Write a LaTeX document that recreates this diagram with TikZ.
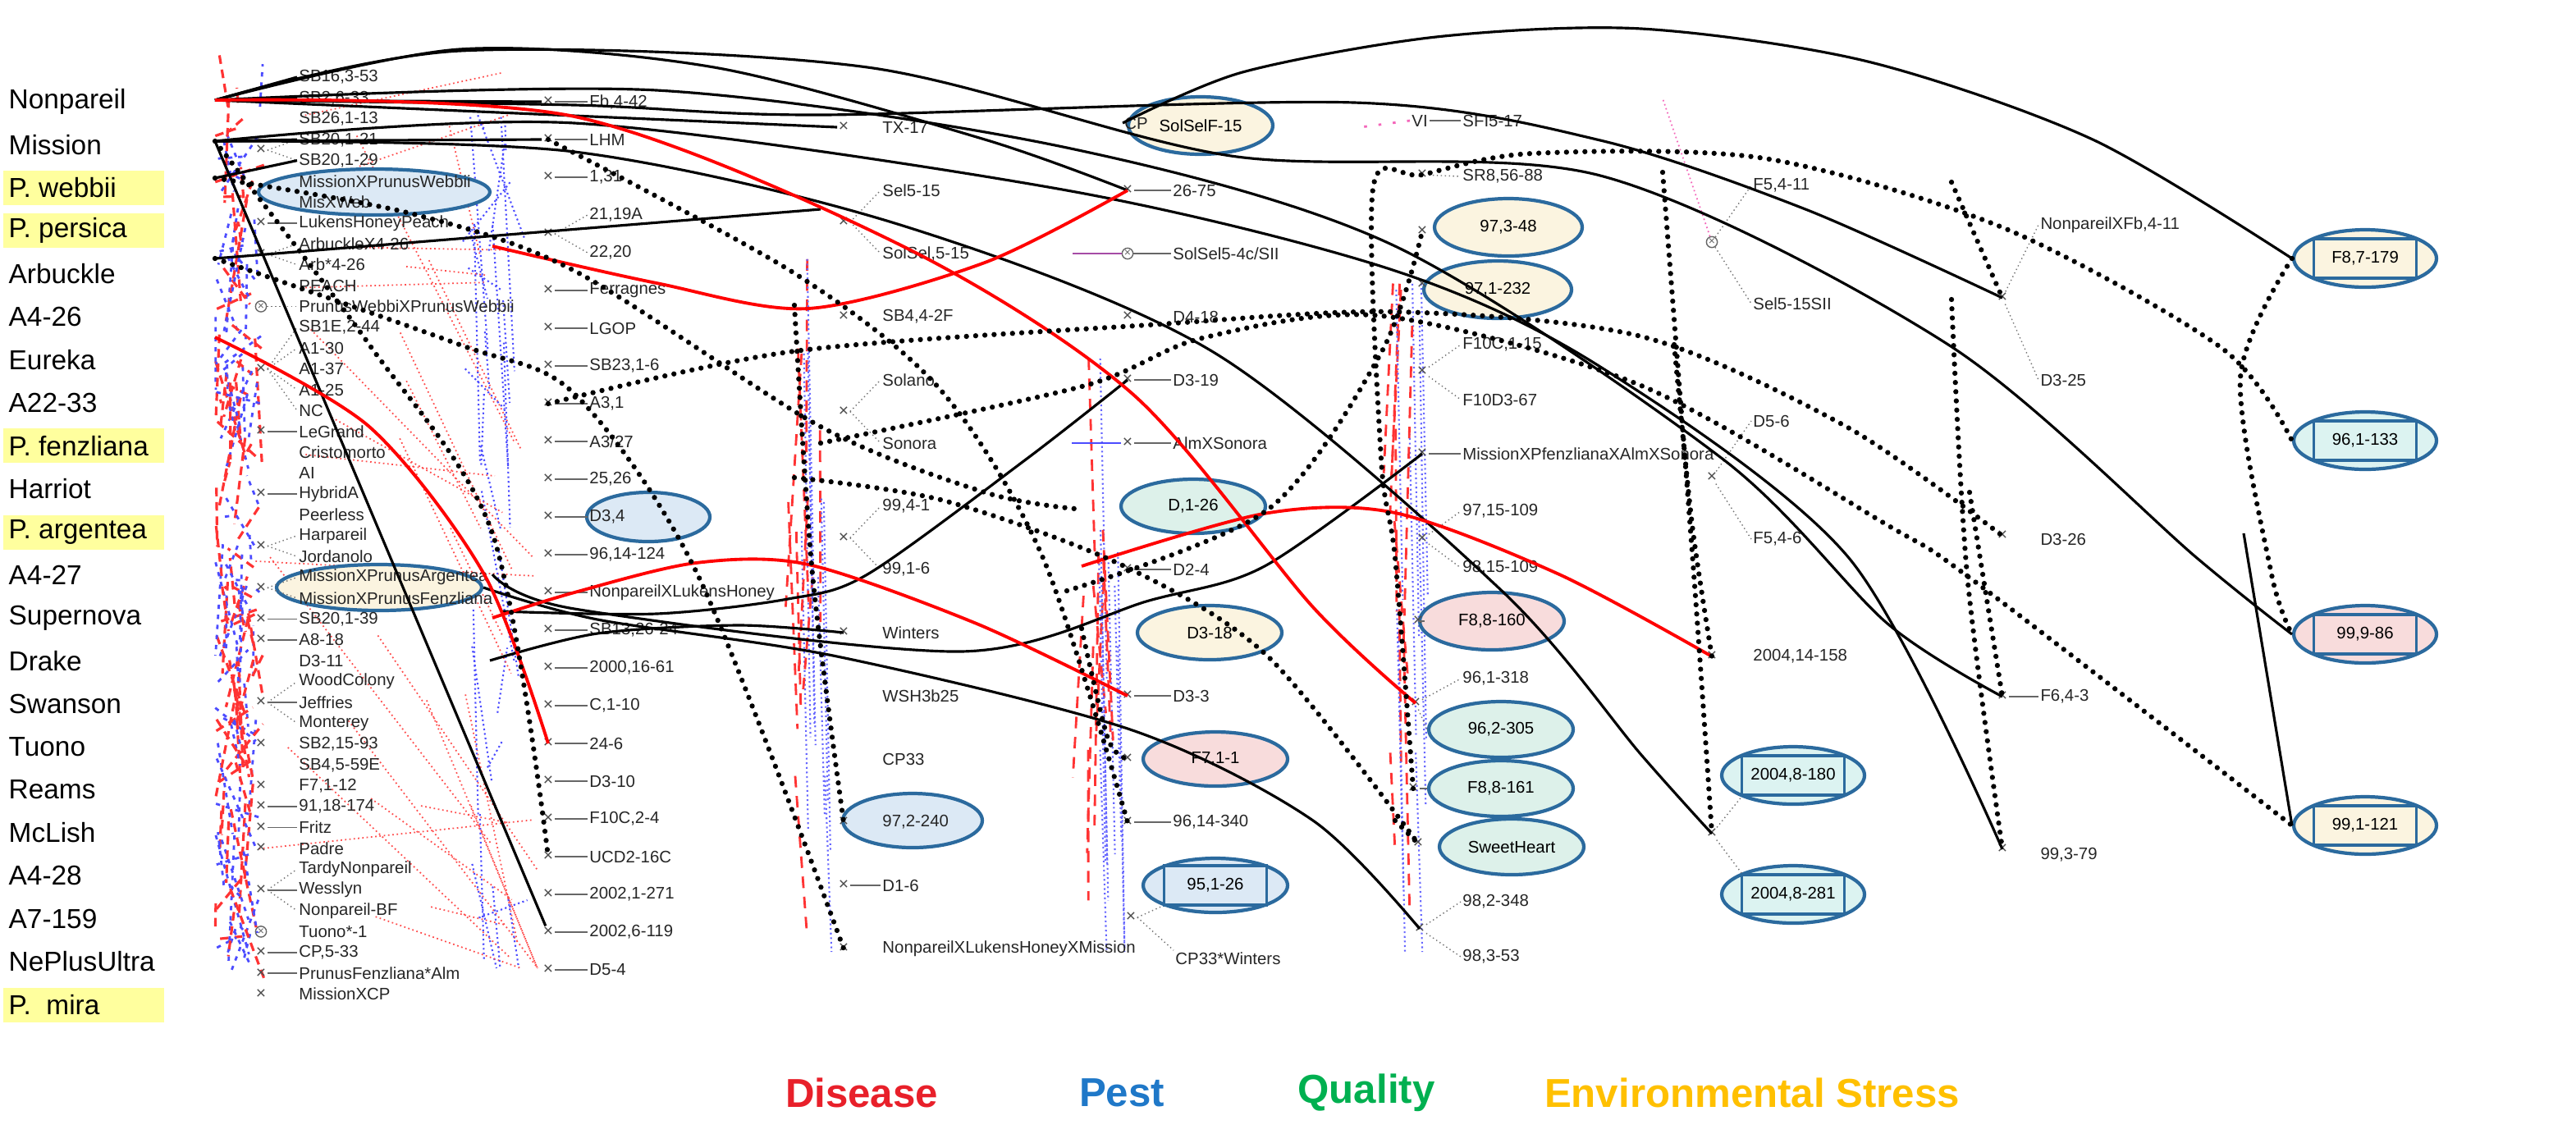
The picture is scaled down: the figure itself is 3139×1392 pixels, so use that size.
\documentclass[tikz,border=0pt]{standalone}
\usepackage{fontspec}
\setmainfont{Liberation Sans}
\usetikzlibrary{shapes.geometric}
\definecolor{ebl}{HTML}{2B6A9E}
\definecolor{fblue}{HTML}{DCE9F5}
\definecolor{fyel}{HTML}{FBF4E0}
\definecolor{fgrn}{HTML}{DDF1EA}
\definecolor{fpnk}{HTML}{F8DCDC}
\definecolor{fcyn}{HTML}{DCF3F1}
\definecolor{hl}{HTML}{FFFF9E}
\definecolor{lred}{HTML}{E8202A}
\definecolor{lblue}{HTML}{1F78C8}
\definecolor{lgrn}{HTML}{00B050}
\definecolor{lgold}{HTML}{FFC000}
\begin{document}
\begin{tikzpicture}[x=0.1mm,y=-0.1mm,
  lab/.style={font=\fontsize{5.8}{6}\selectfont,anchor=west,inner sep=0.5pt,text=black!85},
  nm/.style={font=\fontsize{9.5}{11}\selectfont,anchor=west,inner sep=0pt},
  mk/.style={font=\fontsize{6}{6}\selectfont,text=black!70,inner sep=0.3pt},
  cmk/.style={circle,draw=black!60,font=\fontsize{4}{4}\selectfont,inner sep=0.2pt,text=black!60},
  ell/.style={ellipse,draw=ebl,line width=1.2pt,minimum width=17.6mm,minimum height=6.6mm,inner sep=0pt,font=\fontsize{5.8}{6}\selectfont},
  bx/.style={draw=ebl,line width=1pt,minimum width=12.5mm,minimum height=4.8mm,inner sep=0pt,font=\fontsize{5.8}{6}\selectfont},
  dl/.style={black!60,line width=0.5pt},
  br/.style={black!55,line width=0.4pt,densely dotted},
  sl/.style={black,line width=0.9pt},
  rl/.style={red,line width=1.1pt},
  dt/.style={black,line width=1.8pt,dash pattern=on 0pt off 3.2pt,line cap=round},
  lg/.style={font=\fontsize{14}{16}\selectfont\bfseries}]
\path[use as bounding box] (0,0) rectangle (3139,1392);
\fill[white] (0,0) rectangle (3139,1392);

% ---------- left names ----------
\foreach \y in {115,141,272,325,613}{\fill[hl] (4,{2*\y-22}) rectangle (200,{2*\y+20});}
\foreach \t [count=\i from 0] in {Nonpareil,Mission,P. webbii,P. persica,Arbuckle,A4-26,Eureka,A22-33,P. fenzliana,Harriot,P. argentea,A4-27,Supernova,Drake,Swanson,Tuono,Reams,McLish,A4-28,A7-159,NePlusUltra,P.~~mira}
  {\node[nm] (n\i) at (10,{124+52.4*\i}) {\t};}

% ---------- sources ----------
\coordinate (sN) at (262,122);
\coordinate (sM) at (262,172);
\coordinate (sW) at (262,217);
\coordinate (sA) at (262,315);
\coordinate (sE) at (262,411);

% ---------- faint red / blue lines ----------
\pgfmathsetseed{11}
\foreach \k in {1,...,70}{
  \pgfmathsetmacro\ya{120+rnd*1040}\pgfmathsetmacro\yb{min(\ya+(rnd-0.3)*220,1200)}
  \pgfmathsetmacro\xa{262+rnd*50}\pgfmathsetmacro\xb{262+rnd*60}
  \draw[red!80,line width=0.9pt,dash pattern=on 3pt off 2pt] (\xa,\ya) -- (\xb,\yb);
  \pgfmathsetmacro\yc{130+rnd*1040}\pgfmathsetmacro\yd{min(\yc+(rnd-0.3)*220,1200)}
  \pgfmathsetmacro\xc{262+rnd*60}\pgfmathsetmacro\xd{262+rnd*60}
  \draw[blue!70,line width=0.8pt,dash pattern=on 1.5pt off 2pt] (\xc,\yc) -- (\xd,\yd);}
\foreach \k in {1,...,28}{
  \pgfmathsetmacro\ya{130+rnd*1000}\pgfmathsetmacro\yb{min(\ya+(rnd-0.2)*500,1180)}
  \pgfmathsetmacro\xa{290+rnd*300}\pgfmathsetmacro\xb{580+rnd*80}
  \draw[red!70,line width=0.5pt,densely dotted] (\xa,\ya) -- (\xb,\yb);
  \pgfmathsetmacro\yc{130+rnd*1000}\pgfmathsetmacro\yd{min(\yc+(rnd-0.2)*400,1180)}
  \pgfmathsetmacro\xc{560+rnd*60}\pgfmathsetmacro\xd{580+rnd*70}
  \draw[blue!70,line width=0.6pt,densely dotted] (\xc,\yc) -- (\xd,\yd);}
\foreach \xx in {960,1320,1690}{
 \foreach \k in {1,...,9}{
  \pgfmathsetmacro\ya{300+rnd*650}\pgfmathsetmacro\yb{min(\ya+120+rnd*250,1140)}
  \pgfmathsetmacro\xa{\xx+rnd*40}\pgfmathsetmacro\xb{\xa+(rnd-0.5)*40}
  \draw[red!80,line width=0.8pt,dash pattern=on 4pt off 3pt] (\xa,\ya) -- (\xb,\yb);
  \pgfmathsetmacro\xc{\xx+10+rnd*40}\pgfmathsetmacro\ye{min(\yb+150,1160)}
  \draw[blue!60,line width=0.6pt,densely dotted] (\xc,\ya) -- (\xc+8,\ye);}}

% ---------- column 1 ----------
\node[ell,fill=fblue,minimum width=28.2mm,minimum height=5.6mm] (e1) at (456,234) {};
\node[ell,fill=fyel,minimum width=25mm,minimum height=5.6mm] (e2) at (462,716) {};
\foreach \t [count=\i from 0] in {{SB16,3-53},{SB2,6-33},{SB26,1-13},{SB20,1-21},{SB20,1-29},MissionXPrunusWebbii,MisXWeb,LukensHoneyPeach,ArbuckleX4-26,Arb*4-26,PEACH,PrunusWebbiXPrunusWebbii,{SB1E,2-44},A1-30,A1-37,A1-25,NC,LeGrand,Cristomorto,AI,HybridA,Peerless,Harpareil,Jordanolo,MissionXPrunusArgentea,MissionXPrunusFenzliana,{SB20,1-39},A8-18,D3-11,WoodColony,Jeffries,Monterey,{SB2,15-93},{SB4,5-59E},{F7,1-12},{91,18-174},Fritz,Padre,TardyNonpareil,Wesslyn,Nonpareil-BF,Tuono*-1,{CP,5-33},PrunusFenzliana*Alm,MissionXCP}
  {\node[lab] (a\i) at (362,{94+25.4*\i}) {\t};}
\foreach \r in {7,17,20,26,27,35,36,42,43}{\node[mk] (ma\r) at (318,{94+25.4*\r}) {×}; \draw[dl] (ma\r.east) -- (a\r.west);}
\foreach \r in {32,34,37,44}{\node[mk] (ma\r) at (318,{94+25.4*\r}) {×};}
\foreach \p/\q/\n in {3/4/1,8/9/2,22/23/3,24/25/4}{\node[mk] (mb\n) at (318,{94+25.4*(\p+0.5)}) {×};
  \draw[br] (mb\n.east) -- (a\p.west); \draw[br] (mb\n.east) -- (a\q.west);}
\node[mk] (mc1) at (318,{94+25.4*14}) {×};
\foreach \q in {12,13,15,16}{\draw[br] (mc1.east) -- (a\q.west);}
\node[mk] (mc2) at (318,{94+25.4*30}) {×};
\draw[br] (mc2.east) -- (a29.west); \draw[dl] (mc2.east) -- (a30.west); \draw[br] (mc2.east) -- (a31.west);
\node[mk] (mc3) at (318,{94+25.4*39}) {×};
\draw[br] (mc3.east) -- (a38.west); \draw[dl] (mc3.east) -- (a39.west); \draw[br] (mc3.east) -- (a40.west);
\node[cmk] (mo1) at (318,{94+25.4*11}) {×}; \draw[br] (mo1) -- (a11.west);
\node[cmk] (mo2) at (318,{94+25.4*41}) {×};

% ---------- column 2 ----------
\node[ell,fill=fblue,minimum width=15mm,minimum height=6mm] (e3) at (790,630) {};
\foreach \t [count=\i from 0] in {{Fb,4-42},LHM,{1,31},{21,19A},{22,20},Ferragnes,LGOP,{SB23,1-6},{A3,1},A3/27,{25,26},{D3,4},{96,14-124},NonpareilXLukensHoney,{SB13,26-24},{2000,16-61},{C,1-10},24-6,D3-10,{F10C,2-4},UCD2-16C,{2002,1-271},{2002,6-119},D5-4}
  {\node[lab] (b\i) at (716,{124+46*\i}) {\t};}
\foreach \r in {0,1,2,5,6,7,8,9,10,11,12,13,14,15,16,17,18,19,20,21,22,23}{\node[mk] (mb2-\r) at (668,{124+46*\r}) {×}; \draw[dl] (mb2-\r.east) -- (b\r.west);}
\node[mk] (mb2-34) at (668,{124+46*3.5}) {×}; \draw[br] (mb2-34.east) -- (b3.west); \draw[br] (mb2-34.east) -- (b4.west);

% ---------- column 3 ----------
\node[ell,fill=fblue,minimum width=17mm] (e4) at (1112,1000) {};
\foreach \t [count=\i from 0] in {TX-17,Sel5-15,{SolSel,5-15},{SB4,4-2F},Solano,Sonora,{99,4-1},{99,1-6},Winters,WSH3b25,CP33,{97,2-240},D1-6,NonpareilXLukensHoneyXMission}
  {\node[lab] (c\i) at (1073,{155+77*\i}) {\t};}
\foreach \r in {0,3,8,11,13}{\node[mk] (mc3-\r) at (1028,{155+77*\r}) {×};}
\node[mk] (mc3-12) at (1028,{155+77*12}) {×}; \draw[dl] (mc3-12.east) -- (c12.west);
\foreach \p/\q in {1/2,4/5,6/7}{\node[mk] (mc3-\p) at (1028,{155+77*(\p+0.5)}) {×};
  \draw[br] (mc3-\p.east) -- (c\p.west); \draw[br] (mc3-\p.east) -- (c\q.west);}

% ---------- column 4 ----------
\node[ell,fill=fyel,minimum height=7mm] (e5) at (1463,153) {SolSelF-15};
\node[lab] (cp) at (1368,150) {CP};
\node[ell,fill=fgrn] (e6) at (1454,617) {D,1-26};
\node[ell,fill=fyel] (e7) at (1474,771) {D3-18};
\node[ell,fill=fpnk] (e8) at (1481,925) {F7,1-1};
\node[ell,fill=fblue] (e9) at (1481,1079) {};
\node[bx,fill=fblue,anchor=center] (r9) at (1481,1079) {95,1-26};
\foreach \t/\j in {26-75/1,{SolSel5-4c/SII}/2,D4-18/3,D3-19/4,AlmXSonora/5,D2-4/7,D3-3/9,{96,14-340}/11}
  {\node[lab] (d\j) at (1427,{155+77*\j}) {\t};}
\node[lab] (d13) at (1430,1168) {CP33*Winters};
\foreach \j in {1,4,5,7,9,11}{\node[mk] (md\j) at (1374,{155+77*\j}) {×}; \draw[dl] (md\j.east) -- (d\j.west);}
\node[cmk] (md2) at (1374,309) {×}; \draw[dl] (md2.east) -- (d2.west); \draw[violet!70,line width=0.6pt] (md2.west) -- ++(-60,0);
\node[mk] (md3) at (1374,386) {×};
\node[mk] (md10) at (1374,925) {×};
\node[mk] (md13) at (1378,1118) {×}; \draw[br] (md13.east) -- (d13.north west); \draw[br] (md13.east) -- (e9.south west);
\draw[blue!70,line width=0.7pt] (md5.west) -- ++(-60,0);

% ---------- column 5 ----------
\node[ell,fill=fyel,minimum width=18mm,minimum height=7mm] (e10) at (1838,277) {97,3-48};
\node[ell,fill=fyel,minimum width=18mm,minimum height=7mm] (e11) at (1825,353) {97,1-232};
\node[ell,fill=fpnk,minimum width=17.6mm,minimum height=7mm] (e12) at (1818,757) {F8,8-160};
\node[ell,fill=fgrn,minimum width=17.6mm,minimum height=6.8mm] (e13) at (1829,889) {96,2-305};
\node[ell,fill=fgrn,minimum width=17.6mm,minimum height=6.8mm] (e14) at (1829,961) {F8,8-161};
\node[ell,fill=fgrn,minimum width=17.6mm,minimum height=6.8mm] (e15) at (1842,1032) {SweetHeart};
\foreach \t/\y [count=\i] in {SFI5-17/147,{SR8,56-88}/215,{F10C,1-15}/420,F10D3-67/487,MissionXPfenzlianaXAlmXSonora/553,{97,15-109}/623,{98,15-109}/692,{96,1-318}/827,{98,2-348}/1099,{98,3-53}/1166}
  {\node[lab] (f\i) at (1780,\y) {\t};}
\node[lab] (vi) at (1718,147) {VI};
\draw[dl] (vi.east) -- (f1.west); \draw[magenta!60,line width=0.8pt,dash pattern=on 1pt off 4pt] (vi.west) -- ++(-60,8);
\node[mk] (mf2) at (1733,213) {×}; \draw[br] (mf2) -- (f2.west);
\node[mk] (mf3) at (1733,282) {×};
\node[mk] (mf4) at (1733,347) {×};
\node[mk] (mf5) at (1733,453) {×}; \draw[br] (mf5) -- (f3.west); \draw[br] (mf5) -- (f4.west);
\node[mk] (mf6) at (1733,553) {×}; \draw[dl] (mf6.east) -- (f5.west);
\node[mk] (mf7) at (1733,657) {×}; \draw[br] (mf7) -- (f6.west); \draw[br] (mf7) -- (f7.west);
\node[mk] (mf8) at (1728,757) {×}; \draw[dl] (mf8.east) -- (e12.west);
\node[mk] (mf9) at (1725,857) {×}; \draw[br] (mf9) -- (f8.west); \draw[br] (mf9) -- (e13.west);
\node[mk] (mf10) at (1722,961) {×}; \draw[dl] (mf10.east) -- (e14.west);
\node[mk] (mf11) at (1728,1028) {×};
\node[mk] (mf12) at (1730,1132) {×}; \draw[br] (mf12) -- (f9.west); \draw[br] (mf12) -- (f10.west);

% ---------- column 6 / 7 ----------
\node[ell,fill=fcyn,minimum width=17.4mm,minimum height=7mm] (e16) at (2185,945) {};
\node[bx,fill=fcyn] (r16) at (2185,945) {2004,8-180};
\node[ell,fill=fcyn,minimum width=17.4mm,minimum height=7mm] (e17) at (2185,1090) {};
\node[bx,fill=fcyn] (r17) at (2185,1090) {2004,8-281};
\foreach \t/\y [count=\i] in {{F5,4-11}/226,Sel5-15SII/370,D5-6/513,{F5,4-6}/657,{2004,14-158}/800}
  {\node[lab] (g\i) at (2134,\y) {\t};}
\node[cmk] (mg1) at (2086,295) {×}; \draw[br] (mg1) -- (g1.west); \draw[br] (mg1) -- (g2.west);
\draw[magenta!60,line width=0.5pt,densely dotted] (mg1) -- (2026,120);
\node[mk] (mg2) at (2086,582) {×}; \draw[br] (mg2) -- (g3.west); \draw[br] (mg2) -- (g4.west);
\node[mk] (mg3) at (2086,800) {×};
\node[mk] (mg4) at (2086,1016) {×}; \draw[br] (mg4) -- (e16.south west); \draw[br] (mg4) -- (e17.north west);
\foreach \t/\y [count=\i] in {{NonpareilXFb,4-11}/274,D3-25/463,D3-26/657,{F6,4-3}/849,{99,3-79}/1042}
  {\node[lab] (h\i) at (2484,\y) {\t};}
\node[mk] (mh1) at (2440,363) {×}; \draw[br] (mh1) -- (h1.west); \draw[br] (mh1) -- (h2.west);
\node[mk] (mh2) at (2440,653) {×};
\node[mk] (mh3) at (2440,849) {×}; \draw[dl] (mh3.east) -- (h4.west);
\node[mk] (mh4) at (2440,1035) {×};

% ---------- column 8 ----------
\foreach \t/\y/\c [count=\i] in {{F8,7-179}/315/fyel,{96,1-133}/537/fcyn,{99,9-86}/773/fpnk,{99,1-121}/1006/fyel}{
  \node[ell,fill=\c,minimum width=17.4mm,minimum height=7mm] (k\i) at (2882,\y) {};
  \node[bx,fill=\c] (kr\i) at (2882,\y) {\t};}

% ---------- black solid connectors ----------
\draw[sl] (sN) -- (mb2-0.west); \draw[sl] (sN) -- (a0.west); \draw[sl] (sN) -- (a1.west);
\draw[sl] (sM) -- (mb2-1.west); \draw[sl] (sM) -- (a3.west); \draw[sl] (sW) -- (a4.west);
\draw[sl] (sN) -- (mc3-0.west);
\draw[sl] plot[smooth] coordinates {(sN) (700,128) (1000,140) (1650,125) (1950,171) (2200,255) (mh1)};
\draw[sl] plot[smooth] coordinates {(sN) (560,62) (1057,82) (1500,190) (1950,214) (2374,420) (2677,680) (k3.west)};
\draw[sl] plot[smooth] coordinates {(sM) (700,150) (1300,232) (1700,330) (1950,447) (2253,680) (mh4)};
\draw[sl] plot[smooth] coordinates {(sM) (700,185) (1100,275) (1480,430) (1830,720) (2000,920) (mg4)};
\draw[sl] plot[smooth] coordinates {(sN) (800,110) (1300,180) (1700,300) (2100,560) (2300,760) (mh3)};
\draw[sl] plot[smooth] coordinates {(cp.west) (1514,88) (1750,45) (2000,35) (2276,75) (2550,170) (k1.west)};
\draw[sl] plot[smooth] coordinates {(sN) (560,60) (870,82) (1200,170) (md1)};
\draw[sl] plot[smooth] coordinates {(600,700) (700,742) (1170,794) (1400,732) (1541,690) (mf6)};
\draw[sl] plot[smooth] coordinates {(e2.east) (728,755) (1020,800) (1380,890) (1600,1000) (mf12)};
\draw[sl] plot[smooth] coordinates {(597,805) (728,772) (900,762) (mc3-8)};
\draw[sl] plot[smooth] coordinates {(610,745) (800,748) (960,730) (1057,700) (1250,560) (md4)};
\draw[sl] (sM) -- (mb2-22);
\draw[sl] (2734,650) -- (k4.west);
\draw[sl] (sA) -- (1000,255);

% ---------- red connectors ----------
\draw[rl] plot[smooth] coordinates {(sN) (700,142) (1100,300) (1380,480) (1600,740) (mf9)};
\draw[rl] plot[smooth] coordinates {(sE) (450,520) (590,700) (mb2-17)};
\draw[rl] plot[smooth] coordinates {(600,300) (800,345) (985,376) (1200,320) (md1)};
\draw[rl] plot[smooth] coordinates {(600,753) (700,722) (848,686) (985,688) (1190,760) (md9)};
\draw[rl] plot[smooth] coordinates {(1318,690) (1540,626) (1700,625) (1900,700) (mg3)};

% ---------- thick dotted connectors ----------
\draw[dt] plot[smooth] coordinates {(sM) (450,420) (600,650) (mb2-20)};
\draw[dt] plot[smooth] coordinates {(sA) (560,420) (700,480) (850,700) (mc3-13)};
\draw[dt] plot[smooth] coordinates {(sW) (500,260) (700,330) (1000,520) (1200,600) (1310,620)};
\draw[dt] plot[smooth] coordinates {(mb2-1) (968,333) (1146,475) (1271,680) (md11)};
\draw[dt] plot[smooth] coordinates {(968,582) (1150,610) (1370,690) (1545,800) (mf11)};
\draw[dt] plot[smooth] coordinates {(mb2-8) (968,428) (1400,396) (1700,380) (2000,410) (2250,520) (mh2)};
\draw[dt] plot[smooth] coordinates {(1000,540) (1322,470) (1465,412) (1684,385) (2000,470) (2300,640) (2404,707) (k4.west)};
\draw[dt] plot[smooth] coordinates {(mf10) (1700,680) (1683,560) (1673,230) (mf2) (1867,187) (2150,193) (2442,278) (2707,424) (k2.west)};
\draw[dt] plot[smooth] coordinates {(1300,720) (1545,621) (1684,428) (mf3)};
\draw[dt] plot[smooth] coordinates {(968,372) (990,700) (mc3-11)};
\draw[dt] plot[smooth] coordinates {(2026,210) (2064,700) (mg4)};
\draw[dt] plot[smooth] coordinates {(2040,420) (2062,640) (mg3)};
\draw[dt] plot[smooth] coordinates {(2378,222) (mh1)};
\draw[dt] plot[smooth] coordinates {(2378,365) (2397,700) (mh4)};
\draw[dt] plot[smooth] coordinates {(2400,600) (mh3)};
\draw[dt] plot[smooth] coordinates {(k1.west) (2730,460) (2768,700) (k3.west)};
\draw[dt] plot[smooth] coordinates {(1318,766) (1350,900) (md10)};
\draw[dt] plot[smooth] coordinates {(1700,1000) (mf11)};

% ---------- legend ----------
\node[lg,text=lred] (L1) at (1050,1332) {Disease};
\node[lg,text=lblue] (L2) at (1367,1332) {Pest};
\node[lg,text=lgrn] (L3) at (1665,1332) {Quality};
\node[lg,text=lgold] (L4) at (2135,1332) {Environmental Stress};
\end{tikzpicture}
\end{document}
